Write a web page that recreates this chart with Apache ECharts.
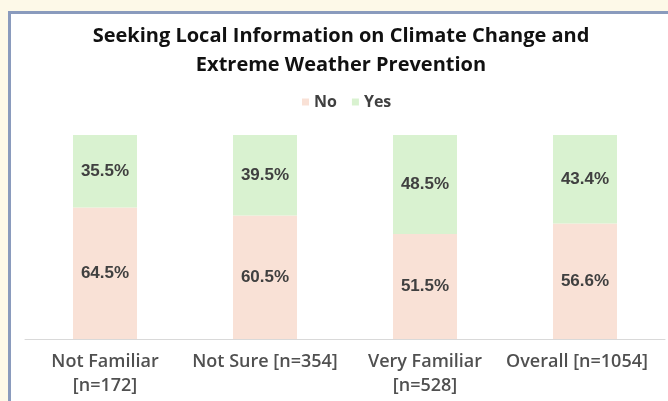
<!DOCTYPE html>
<html>
<head>
<meta charset="utf-8">
<script src="https://cdn.jsdelivr.net/npm/echarts@6/dist/echarts.min.js"></script>
<style>
  html, body { margin: 0; padding: 0; background: #fdf9e8; }
  #chart { width: 668px; height: 401px; }
</style>
</head>
<body>
<div id="chart"></div>
<script>
// Survey groups and the share of respondents answering No / Yes (%)
const categories = ['Not Familiar\n[n=172]', 'Not Sure [n=354]', 'Very Familiar\n[n=528]', 'Overall [n=1054]'];
const noValues = [64.5, 60.5, 51.5, 56.6];
const yesValues = [35.5, 39.5, 48.5, 43.4];

const chart = echarts.init(document.getElementById('chart'));

const labelStyle = {
  show: true,
  position: 'inside',
  formatter: '{c}%',
  fontFamily: 'Liberation Sans, Arial, sans-serif',
  fontWeight: 'bold',
  fontSize: 17,
  color: '#404040'
};

const axisFont = {
  fontFamily: 'Open Sans, sans-serif',
  fontWeight: 600,
  fontSize: 18,
  lineHeight: 24,
  color: '#505050'
};

chart.setOption({
  backgroundColor: '#fdf9e8',
  graphic: [{
    type: 'rect',
    z: 0,
    shape: { x: 9.5, y: 12.5, width: 700, height: 500 },
    style: { fill: '#ffffff', stroke: '#8a9bbd', lineWidth: 3 }
  }],
  title: {
    text: 'Seeking Local Information on Climate Change and\nExtreme Weather Prevention',
    left: 341,
    top: 22,
    padding: 0,
    textAlign: 'center',
    textStyle: {
      fontFamily: 'Open Sans, sans-serif',
      fontWeight: 'bold',
      fontSize: 20,
      lineHeight: 29,
      color: '#111111'
    }
  },
  legend: {
    data: ['No', 'Yes'],
    left: 302,
    top: 94,
    padding: 0,
    itemWidth: 7,
    itemHeight: 7,
    itemGap: 15,
    icon: 'rect',
    textStyle: {
      fontFamily: 'Open Sans, sans-serif',
      fontWeight: 'bold',
      fontSize: 16,
      color: '#404040'
    }
  },
  grid: { left: 25, right: 3, top: 135, bottom: 62 },
  xAxis: {
    type: 'category',
    data: categories,
    axisLine: { lineStyle: { color: '#d9d9d9', width: 1 } },
    axisTick: { show: false },
    axisLabel: Object.assign({
      interval: 0,
      margin: 11,
      verticalAlign: 'top',
      // the last label is nudged left so it stays inside the frame
      formatter: function (value, idx) {
        return idx === categories.length - 1 ? '{edge|' + value + '}' : value;
      },
      rich: {
        edge: Object.assign({ padding: [0, 16, 0, 0] }, axisFont)
      }
    }, axisFont)
  },
  yAxis: {
    type: 'value',
    min: 0,
    max: 100,
    show: false,
    splitLine: { show: false }
  },
  series: [
    {
      name: 'No',
      type: 'bar',
      stack: 'total',
      barWidth: 64,
      data: noValues,
      itemStyle: { color: '#f9e1d6' },
      label: labelStyle
    },
    {
      name: 'Yes',
      type: 'bar',
      stack: 'total',
      barWidth: 64,
      data: yesValues,
      itemStyle: { color: '#d9f2d0' },
      label: labelStyle
    }
  ]
});
</script>
</body>
</html>
